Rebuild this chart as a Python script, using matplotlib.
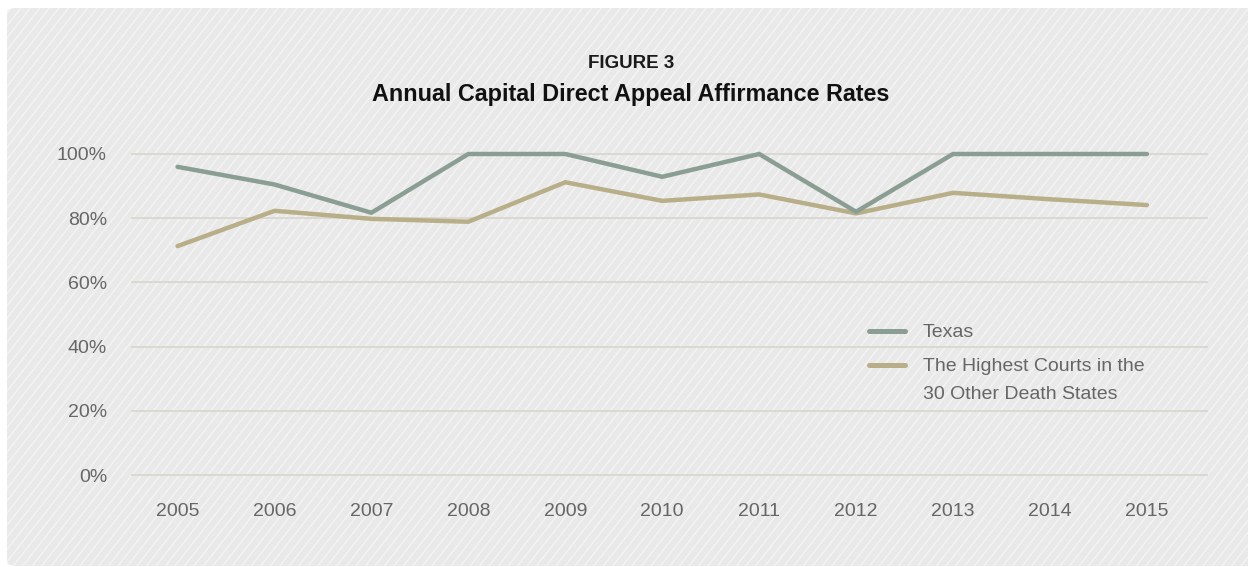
import numpy as np
import matplotlib
matplotlib.use("Agg")
import matplotlib.pyplot as plt
from matplotlib.patches import FancyBboxPatch
from matplotlib.lines import Line2D
from matplotlib.collections import LineCollection

# ---- data -------------------------------------------------------------
years = [2005, 2006, 2007, 2008, 2009, 2010, 2011, 2012, 2013, 2014, 2015]
texas = [96.0, 90.5, 81.7, 100, 100, 92.9, 100, 82.0, 100, 100, 100]
other_states = [71.3, 82.3, 79.8, 78.9, 91.2, 85.4, 87.4, 81.5, 87.9, 85.9, 84.1]
y_ticks = [0, 20, 40, 60, 80, 100]
y_tick_labels = ["0%", "20%", "40%", "60%", "80%", "100%"]
series_names = ["Texas", "The Highest Courts in the\n30 Other Death States"]

TEXAS_COLOR = "#8a9e94"
OTHER_COLOR = "#b8af89"
GRID_COLOR = "#d8d7cf"
TEXT_GRAY = "#666666"
FONT = ["Liberation Sans", "DejaVu Sans"]
TITLE_FONT = ["Liberation Sans Narrow", "Liberation Sans", "DejaVu Sans"]

W, H = 1248, 567
fig = plt.figure(figsize=(W / 100, H / 100), dpi=100)
fig.patch.set_facecolor("white")

# ---- striped panel background ----------------------------------------
panel = FancyBboxPatch((7 / W, 1 / H), (W - 7) / W + 0.02, (H - 9) / H,
                       boxstyle="round,pad=0,rounding_size=0.008",
                       transform=fig.transFigure, facecolor="#e9e9e9",
                       edgecolor="none", zorder=-10)
fig.add_artist(panel)

angle = np.deg2rad(52)
spacing = 7.5
segs = []
span = W + H
for off in np.arange(-span, span, spacing / np.sin(angle)):
    x0, y0 = off, 0
    x1, y1 = off + span / np.tan(angle), span
    segs.append([(x0 / W, y0 / H), (x1 / W, y1 / H)])
stripes = LineCollection(segs, colors="white", linewidths=0.9, alpha=0.55,
                         transform=fig.transFigure, zorder=-9)
stripes.set_clip_path(panel)
fig.add_artist(stripes)

# ---- axes --------------------------------------------------------------
left_px, right_px = 132, 1207
top_px, bottom_px = 154, 475
ax = fig.add_axes([left_px / W, (H - bottom_px) / H,
                   (right_px - left_px) / W, (bottom_px - top_px) / H])
ax.set_facecolor("none")
ax.set_xlim(2004.53, 2015.62)
ax.set_ylim(0, 100)

for t in y_ticks:
    ax.axhline(t, color=GRID_COLOR, linewidth=1.3, zorder=1, clip_on=False)

ax.plot(years, texas, color=TEXAS_COLOR, linewidth=3.2, solid_capstyle="round",
        solid_joinstyle="miter", zorder=3, clip_on=False)
ax.plot(years, other_states, color=OTHER_COLOR, linewidth=3.2,
        solid_capstyle="round", solid_joinstyle="miter", zorder=2, clip_on=False)

for s in ax.spines.values():
    s.set_visible(False)
ax.set_yticks(y_ticks)
ax.set_yticklabels(y_tick_labels)
ax.set_xticks(years)
ax.set_xticklabels([str(y) for y in years])
ax.tick_params(axis="both", length=0, labelsize=14, labelcolor=TEXT_GRAY)
ax.tick_params(axis="y", pad=18)
ax.tick_params(axis="x", pad=20)
for lab in ax.get_xticklabels() + ax.get_yticklabels():
    lab.set_family(FONT)

# ---- titles ------------------------------------------------------------
fig.text(631 / W, 1 - 64 / H, "FIGURE 3", ha="center", va="center",
         fontsize=13.5, fontweight="bold", color="#1a1a1a", family=FONT)
fig.text(631 / W, 1 - 94 / H, "Annual Capital Direct Appeal Affirmance Rates",
         ha="center", va="center", fontsize=16.8, fontweight="bold",
         color="#111111", family=TITLE_FONT)

# ---- legend ------------------------------------------------------------
legend_rows = [(331, TEXAS_COLOR, series_names[0]),
               (365, OTHER_COLOR, series_names[1])]
for ypx, col, name in legend_rows:
    fig.add_artist(Line2D([869 / W, 905 / W], [1 - ypx / H, 1 - ypx / H],
                          color=col, linewidth=3.6, solid_capstyle="round",
                          transform=fig.transFigure))
    fig.text(923 / W, 1 - (ypx - 7) / H, name, ha="left", va="top",
             fontsize=14, color=TEXT_GRAY, family=FONT, linespacing=1.82)

fig.savefig("out.png", dpi=100, facecolor=fig.get_facecolor())
